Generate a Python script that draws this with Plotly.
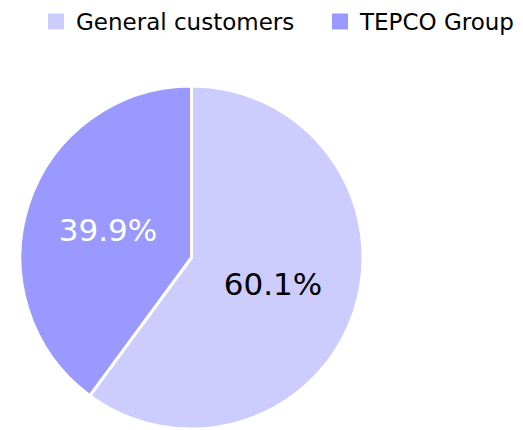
import plotly.graph_objects as go

# =============================================================================
# DATA
# =============================================================================

labels = ["General customers", "TEPCO Group"]
shares = [60.1, 39.9]
slice_colors = ["#CCCCFF", "#9999FF"]
text_colors = ["#000000", "#FFFFFF"]

W, H = 523, 430

fig = go.Figure()

# Main pie (legend drawn by dummy square markers below)
fig.add_trace(
    go.Pie(
        labels=labels,
        values=shares,
        sort=False,
        direction="clockwise",
        rotation=0,
        marker=dict(
            colors=slice_colors,
            line=dict(color="#FFFFFF", width=3),
        ),
        texttemplate="%{value:.1f}%",
        textposition="inside",
        insidetextorientation="horizontal",
        insidetextfont=dict(
            family="DejaVu Sans",
            size=31,
            color=text_colors,
        ),
        hoverinfo="skip",
        showlegend=False,
        domain=dict(
            x=[20 / W, 363 / W],
            y=[1 / H, 344 / H],
        ),
    )
)

# Legend entries with larger square swatches, one legend box each
legend_refs = ["legend", "legend2"]
for name, color, ref in zip(labels, slice_colors, legend_refs):
    fig.add_trace(
        go.Scatter(
            x=[None],
            y=[None],
            mode="markers",
            name=name,
            legend=ref,
            marker=dict(symbol="square", size=18, color=color),
            hoverinfo="skip",
        )
    )

legend_style = dict(
    orientation="h",
    xanchor="left",
    yanchor="top",
    y=1.0,
    font=dict(size=23, color="#000000"),
    bgcolor="rgba(0,0,0,0)",
)

fig.update_layout(
    width=W,
    height=H,
    paper_bgcolor="#FFFFFF",
    plot_bgcolor="#FFFFFF",
    margin=dict(l=0, r=0, t=0, b=0),
    font=dict(family="DejaVu Sans", color="#000000"),
    showlegend=True,
    xaxis=dict(visible=False),
    yaxis=dict(visible=False),
    legend=dict(x=36 / W, **legend_style),
    legend2=dict(x=320 / W, **legend_style),
)

fig.write_html(
    "out.html",
    config={"displayModeBar": False},
    post_script="document.body.style.margin='0';",
)
